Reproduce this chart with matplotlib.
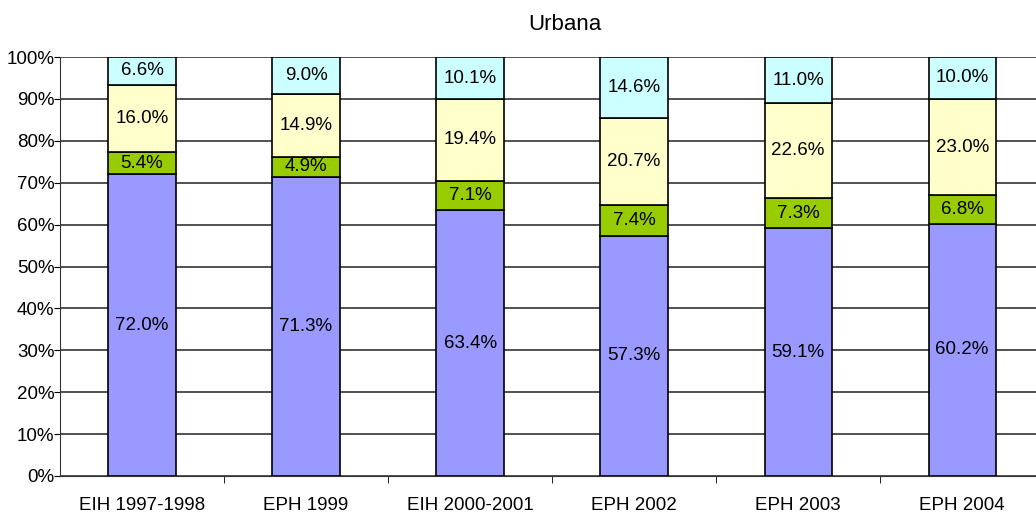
import numpy as np
import matplotlib.pyplot as plt

# datos
categorias = ['EIH 1997-1998', 'EPH 1999', 'EIH 2000-2001', 'EPH 2002', 'EPH 2003', 'EPH 2004']
serie1 = [72.0, 71.3, 63.4, 57.3, 59.1, 60.2]
serie2 = [5.4, 4.9, 7.1, 7.4, 7.3, 6.8]
serie3 = [16.0, 14.9, 19.4, 20.7, 22.6, 23.0]
serie4 = [6.6, 9.0, 10.1, 14.6, 11.0, 10.0]

colores = ['#9999FF', '#99CC00', '#FFFFCC', '#CCFFFF']

plt.rcParams['font.family'] = ['Liberation Sans', 'DejaVu Sans']

fig = plt.figure(figsize=(10.36, 5.18), dpi=100)
ax = fig.add_axes([60 / 1036, 1 - 476 / 518, 976 / 1036, (476 - 57) / 518])

x = np.arange(len(categorias))
bottom = np.zeros(len(categorias))
for vals, col in zip([serie1, serie2, serie3, serie4], colores):
    vals = np.array(vals)
    ax.bar(x, vals, 0.41, bottom=bottom, color=col, edgecolor='black', linewidth=1.2, zorder=3)
    for xi, b, v in zip(x, bottom, vals):
        ax.text(xi, b + v / 2, f'{v:.1f}%', ha='center', va='center', fontsize=13.5, zorder=4)
    bottom += vals

ax.set_ylim(0, 100)
ax.set_xlim(-0.5, 5.45)
ax.set_yticks(np.arange(0, 101, 10))
ax.set_yticklabels([f'{v}%' for v in range(0, 101, 10)], fontsize=13.5)
ax.yaxis.grid(True, color='#333333', linewidth=1.2, zorder=0)
ax.set_axisbelow(True)

ax.set_xticks(x)
ax.set_xticklabels(categorias, fontsize=13.5)
ax.tick_params(axis='x', length=0, pad=15)
ax.set_xticks(np.arange(0.5, len(categorias) - 0.5, 1), minor=True)
ax.tick_params(axis='x', which='minor', length=5, direction='out', color='black')
ax.tick_params(axis='y', length=4, direction='out', pad=0)

for s in ['top', 'right']:
    ax.spines[s].set_visible(False)
ax.spines['left'].set_color('#333333')
ax.spines['bottom'].set_color('#333333')

fig.text(565 / 1036, 1 - 25 / 518, 'Urbana', ha='center', va='center', fontsize=16)

fig.savefig('out.png', dpi=100)
